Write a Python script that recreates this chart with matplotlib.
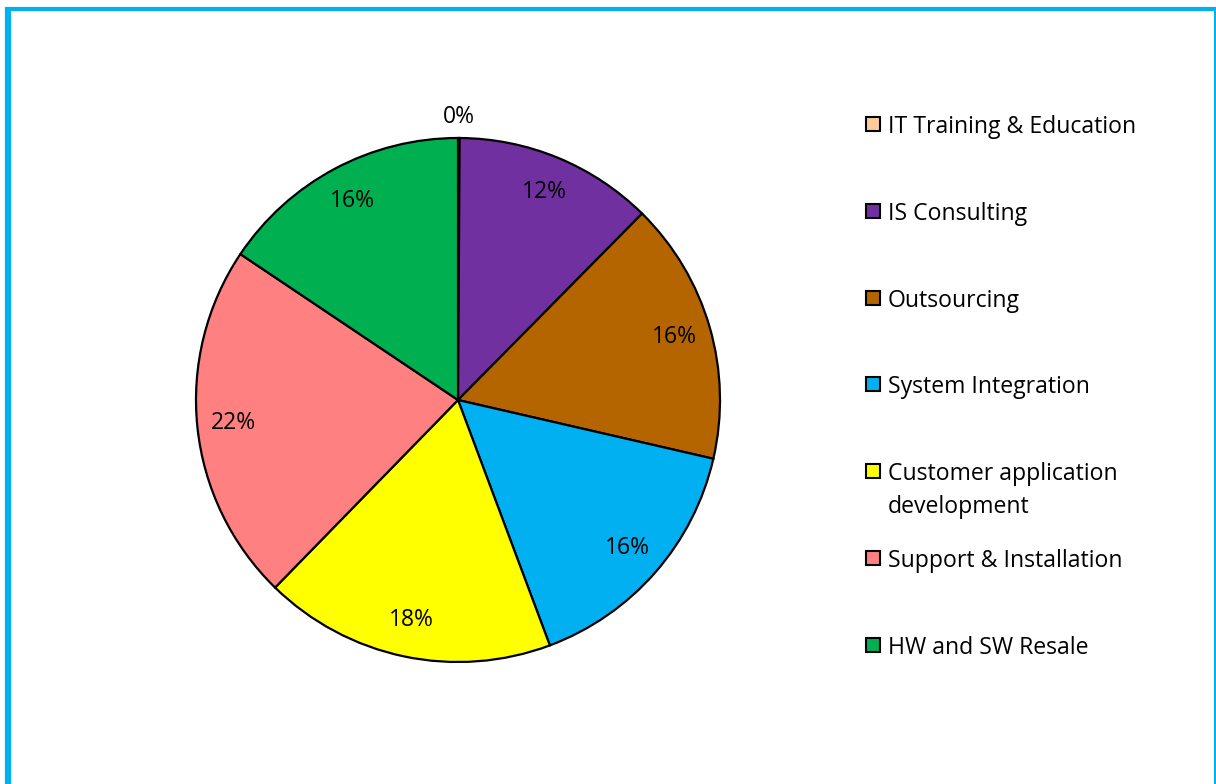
import matplotlib
matplotlib.use("Agg")
import matplotlib.pyplot as plt
import numpy as np
from matplotlib.patches import Rectangle
from matplotlib.lines import Line2D

plt.rcParams['font.family'] = ['Open Sans', 'DejaVu Sans']

categories = ["IT Training & Education", "IS Consulting", "Outsourcing",
              "System Integration", "Customer application\ndevelopment",
              "Support & Installation", "HW and SW Resale"]
shares = [0.1, 12.3, 16.2, 15.7, 18.0, 22.1, 15.6]
colors = ["#FFCC99", "#7030A0", "#B46500", "#00B0F0", "#FFFF00", "#FF8080", "#00B050"]

W, H = 1216, 784
fig = plt.figure(figsize=(W / 100, H / 100), dpi=100)
fig.patch.set_facecolor("white")

def fx(px):
    return px / W

def fy(py):
    return 1 - py / H

# pie axes
cx, cy, r = 458, 400, 262
ax = fig.add_axes([fx(cx - r), fy(cy + r), 2 * r / W, 2 * r / H])
wedges, _ = ax.pie(shares, colors=colors, startangle=90, counterclock=False,
                   radius=1.0,
                   wedgeprops=dict(edgecolor="black", linewidth=1.6))
ax.set_xlim(-1, 1)
ax.set_ylim(-1, 1)
ax.set_aspect("auto")
ax.axis("off")

for w, v in zip(wedges, shares):
    mid = np.deg2rad((w.theta1 + w.theta2) / 2)
    dist = 1.08 if v < 1 else 0.86
    ax.text(dist * np.cos(mid), dist * np.sin(mid), f"{v:.0f}%",
            ha="center", va="center", fontsize=16.5, color="black")

# legend, drawn entry by entry
lx, ly0, step, line_h = 866, 124, 86.8, 33
for i, (lab, c) in enumerate(zip(categories, colors)):
    y = ly0 + i * step
    fig.add_artist(Rectangle((fx(lx), fy(y + 7)), 14 / W, 14 / H,
                             facecolor=c, edgecolor="black", linewidth=1.5,
                             transform=fig.transFigure))
    for j, part in enumerate(lab.split("\n")):
        fig.text(fx(888), fy(y + j * line_h), part, ha="left", va="center_baseline",
                 fontsize=16.6, color="black")

# outer frame
frame = "#00B0F0"
fig.add_artist(Line2D([fx(8), fx(8)], [fy(7), 0], color=frame, linewidth=4.5,
                      transform=fig.transFigure, solid_capstyle="butt"))
fig.add_artist(Line2D([fx(5), 1], [fy(9), fy(9)], color=frame, linewidth=3,
                      transform=fig.transFigure, solid_capstyle="butt"))
fig.add_artist(Line2D([fx(1215), fx(1215)], [fy(7), 0], color=frame, linewidth=1.5,
                      transform=fig.transFigure, solid_capstyle="butt"))

fig.savefig("out.png", dpi=100, facecolor="white")
